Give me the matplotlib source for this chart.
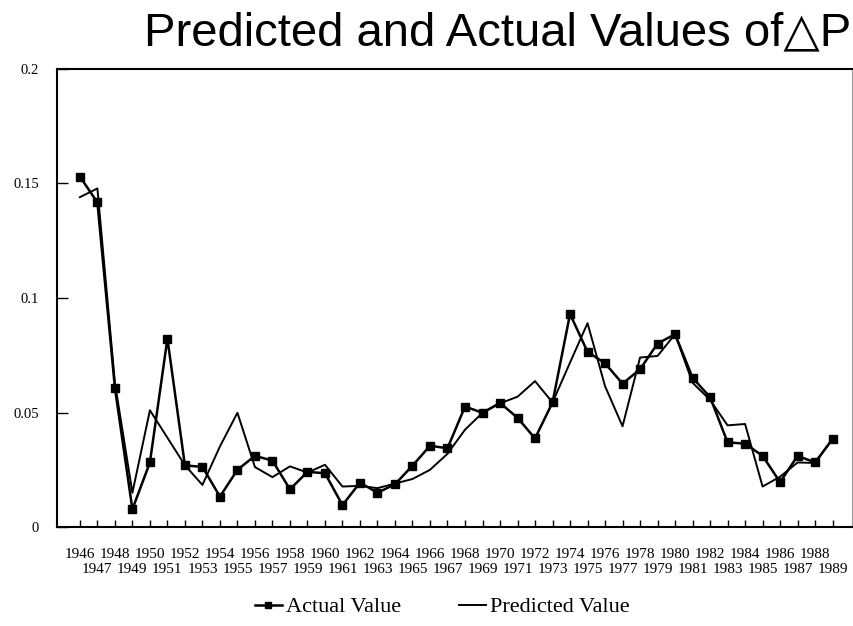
import matplotlib
matplotlib.use("Agg")
import matplotlib.pyplot as plt

# Years on the category axis
years = list(range(1946, 1990))

# Actual change in P, one value per year
actual = [0.153, 0.1417, 0.0608, 0.0078, 0.0282, 0.0823, 0.0269, 0.0263, 0.0133, 0.025,
          0.0311, 0.029, 0.0165, 0.0241, 0.0235, 0.0096, 0.0194, 0.015, 0.0187, 0.0268,
          0.0355, 0.0344, 0.0526, 0.0499, 0.0542, 0.0477, 0.0387, 0.0544, 0.093, 0.0765,
          0.0715, 0.0626, 0.0689, 0.0801, 0.0842, 0.0652, 0.0567, 0.037, 0.0364, 0.0311,
          0.0196, 0.0311, 0.0282, 0.0385]

# Model prediction for the same years
predicted = [0.144, 0.1478, 0.063, 0.015, 0.051, 0.039, 0.027, 0.0184, 0.0352, 0.0499,
             0.0262, 0.0218, 0.0265, 0.0238, 0.0272, 0.0177, 0.018, 0.017, 0.019, 0.021,
             0.025, 0.032, 0.0425, 0.0499, 0.054, 0.0569, 0.0637, 0.0544, 0.0718, 0.089,
             0.0615, 0.044, 0.074, 0.0747, 0.0842, 0.063, 0.0555, 0.0444, 0.045, 0.0177,
             0.022, 0.0282, 0.028, 0.0385]

y_ticks = [0, 0.05, 0.1, 0.15, 0.2]
y_labels = ["0", "0.05", "0.1", "0.15", "0.2"]

serif = "Liberation Serif"

fig = plt.figure(figsize=(8.54, 6.26), dpi=100)
ax = fig.add_axes([0.0667, 0.158, 0.931, 0.732])

ax.plot(years, actual, color="black", lw=1.8, marker="s", ms=6,
        label="Actual Value")
ax.plot(years, predicted, color="black", lw=1.4, label="Predicted Value")

ax.set_xlim(1944.69, 1990.11)
ax.set_ylim(0, 0.2)

# Even years on the first label row, odd years (minor ticks) on a second row below
even_years = [y for y in years if y % 2 == 0]
odd_years = [y for y in years if y % 2 == 1]
ax.set_xticks(even_years)
ax.set_xticklabels([str(y) for y in even_years], family=serif, fontsize=11)
ax.set_xticks(odd_years, minor=True)
ax.set_xticklabels([str(y) for y in odd_years], minor=True, family=serif, fontsize=11)
ax.tick_params(axis="x", which="major", direction="in", length=5, width=1, pad=15)
ax.tick_params(axis="x", which="minor", direction="in", length=5, width=1, pad=26)

ax.set_yticks(y_ticks)
ax.set_yticklabels(y_labels, family=serif, fontsize=10.5)
ax.tick_params(axis="y", direction="in", length=8, width=1, pad=13)

for side in ["left", "bottom", "top"]:
    ax.spines[side].set_linewidth(1.5)
ax.spines["right"].set_linewidth(0.8)
ax.spines["right"].set_color("#999999")

fig.text(0.583, 0.928, "Predicted and Actual Values of\u25b3P", ha="center", va="baseline",
         fontsize=34, family=["Liberation Sans", "DejaVu Sans"])

fig.legend(loc="center", bbox_to_anchor=(0.518, 0.03), ncol=2, frameon=False,
           prop={"family": serif, "size": 16}, handlelength=1.2, handletextpad=0.2,
           columnspacing=2.6, markerscale=0.8)

fig.savefig("out.png", dpi=100)
